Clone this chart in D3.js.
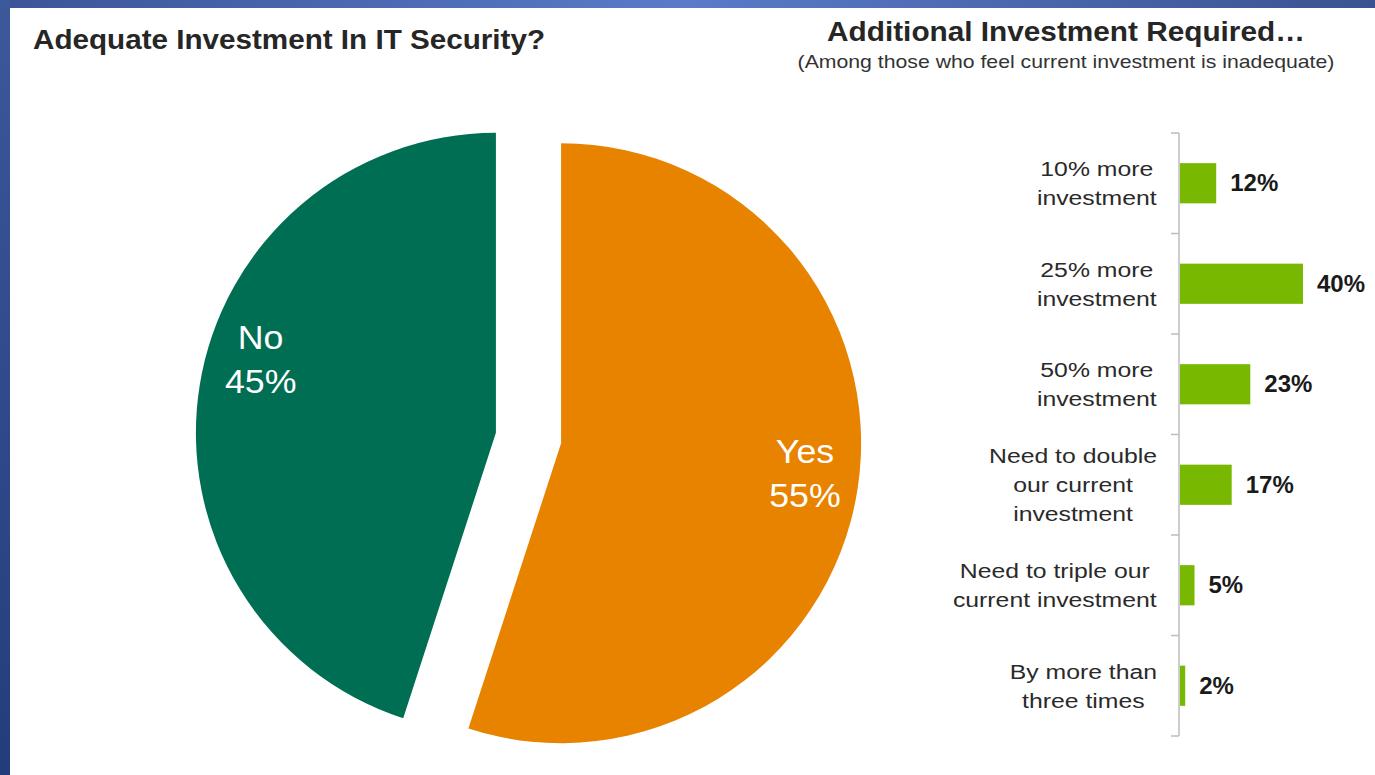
<!DOCTYPE html>
<html>
<head>
<meta charset="utf-8">
<script src="https://cdn.jsdelivr.net/npm/d3@7"></script>
<style>
    body { margin: 0; background: #fff; }
    svg { display: block; font-family: "Liberation Sans", Arial, Helvetica, sans-serif; }
</style>
</head>
<body>
<div id="chart"></div>
<script>
// chart values
const pieLabels = ["Yes", "No"];
const pieValues = [55, 45];

const barLabels = [
    "10% more\ninvestment",
    "25% more\ninvestment",
    "50% more\ninvestment",
    "Need to double\nour current\ninvestment",
    "Need to triple our\ncurrent investment",
    "By more than\nthree times"
];
const barValues = [12, 40, 23, 17, 5, 2];

const leftTitle = "Adequate Investment In IT Security?";
const rightTitle = "Additional Investment Required\u2026";
const rightSubtitle = "(Among those who feel current investment is inadequate)";

const width = 1375, height = 775;
const pieColors = {Yes: "#e88300", No: "#006e53"};
// labels sit a little off the slice bisector, like the original layout
const labelAngleShift = {Yes: -1.5, No: 8};
const barColor = "#78b800";

const svg = d3.select("#chart")
    .append("svg")
    .attr("width", width)
    .attr("height", height);

// blue slide frame
const defs = svg.append("defs");
const topGrad = defs.append("linearGradient").attr("id", "topGrad");
topGrad.append("stop").attr("offset", "0%").attr("stop-color", "#3b5597");
topGrad.append("stop").attr("offset", "50%").attr("stop-color", "#5a7bc9");
topGrad.append("stop").attr("offset", "100%").attr("stop-color", "#3a5390");
const leftGrad = defs.append("linearGradient").attr("id", "leftGrad")
    .attr("x1", 0).attr("y1", 0).attr("x2", 0).attr("y2", 1);
leftGrad.append("stop").attr("offset", "0%").attr("stop-color", "#3d589b");
leftGrad.append("stop").attr("offset", "100%").attr("stop-color", "#233d7c");

svg.append("rect").attr("width", width).attr("height", height).attr("fill", "#fff");
svg.append("rect").attr("width", width).attr("height", 8).attr("fill", "url(#topGrad)");
svg.append("rect").attr("width", 10).attr("height", height).attr("fill", "url(#leftGrad)");

/**
 * multi-line text, lines centred on x=0, stretched horizontally by sx
 */
function addText(parent, lines, opts) {
    const t = parent.append("text")
        .attr("text-anchor", opts.anchor || "middle")
        .attr("font-size", opts.size)
        .attr("font-weight", opts.weight || "normal")
        .attr("fill", opts.fill || "#222");
    lines.forEach((line, i) => {
        t.append("tspan").attr("x", 0).attr("y", i * (opts.lh || 0)).text(line);
    });
    t.attr("transform", `translate(${opts.x},${opts.y}) scale(${opts.sx || 1},1)`);
    return t;
}

// titles
addText(svg, [leftTitle], {x: 33, y: 49, size: 28.5, weight: "bold", anchor: "start", fill: "#262626", sx: 1.04});
addText(svg, [rightTitle], {x: 1066, y: 41, size: 28.5, weight: "bold", fill: "#262626", sx: 1.045});
addText(svg, [rightSubtitle], {x: 1066, y: 68, size: 18, fill: "#333", sx: 1.18});

// ---- pie ----
const pieCx = 528.5, pieCy = 438, radius = 300, explode = 33;

const pie = d3.pie().sort(null).value(d => d.value);
const arc = d3.arc().innerRadius(0).outerRadius(radius);
const arcs = pie(pieLabels.map((l, i) => ({label: l, value: pieValues[i]})));

const slices = svg.append("g").selectAll("g")
    .data(arcs).enter()
    .append("g")
    .attr("transform", d => {
        const mid = (d.startAngle + d.endAngle) / 2;
        return `translate(${pieCx + Math.sin(mid) * explode},${pieCy - Math.cos(mid) * explode})`;
    });

slices.append("path")
    .attr("d", arc)
    .attr("fill", d => pieColors[d.data.label]);

slices.each(function(d) {
    const mid = (d.startAngle + d.endAngle) / 2 + labelAngleShift[d.data.label] * Math.PI / 180;
    const lr = radius * 0.82;
    const lx = Math.sin(mid) * lr, ly = -Math.cos(mid) * lr;
    addText(d3.select(this), [d.data.label, d.data.value + "%"],
        {x: lx, y: ly - 12, size: 34, lh: 44, fill: "#fff", sx: 1.05});
});

// ---- bars ----
const x0 = 1179;
const x = d3.scaleLinear().domain([0, 40]).range([x0, x0 + 124]);
const y = d3.scaleBand().domain(barLabels).range([133, 736])
    .paddingInner(0.6).paddingOuter(0.3);

const barG = svg.append("g");

const bounds = d3.range(barLabels.length + 1).map(i => y.range()[0] + i * y.step());
barG.append("line")
    .attr("x1", x0).attr("x2", x0)
    .attr("y1", bounds[0]).attr("y2", bounds[bounds.length - 1])
    .attr("stroke", "#bdbdbd").attr("stroke-width", 1.5);
barG.selectAll(".tick")
    .data(bounds).enter()
    .append("line")
    .attr("class", "tick")
    .attr("x1", x0 - 8).attr("x2", x0)
    .attr("y1", d => d).attr("y2", d => d)
    .attr("stroke", "#bdbdbd").attr("stroke-width", 1.5);

barG.selectAll("rect")
    .data(barValues).enter()
    .append("rect")
    .attr("x", x0 + 1)
    .attr("y", (d, i) => y(barLabels[i]))
    .attr("width", d => x(d) - x0 - 1)
    .attr("height", y.bandwidth())
    .attr("fill", barColor);

barG.selectAll(".val")
    .data(barValues).enter()
    .append("text")
    .attr("class", "val")
    .attr("x", d => x(d) + 14)
    .attr("y", (d, i) => y(barLabels[i]) + y.bandwidth() / 2 + 8)
    .attr("font-size", 24)
    .attr("font-weight", "bold")
    .attr("fill", "#1a1a1a")
    .text(d => d + "%");

// category labels: block right aligned, lines centred
const labelRight = 1157, labelSize = 21, labelLh = 29, labelSx = 1.18;
barLabels.forEach(lab => {
    const lines = lab.split("\n");
    const center = y(lab) + y.bandwidth() / 2;
    const firstBase = center - (lines.length - 1) * labelLh / 2 + labelSize * 0.716 / 2;
    const t = addText(barG, lines, {x: 0, y: firstBase, size: labelSize, lh: labelLh, fill: "#2a2a2a", sx: labelSx});
    const w = t.node().getBBox().width;
    t.attr("transform", `translate(${labelRight - w * labelSx / 2},${firstBase}) scale(${labelSx},1)`);
});
</script>
</body>
</html>
